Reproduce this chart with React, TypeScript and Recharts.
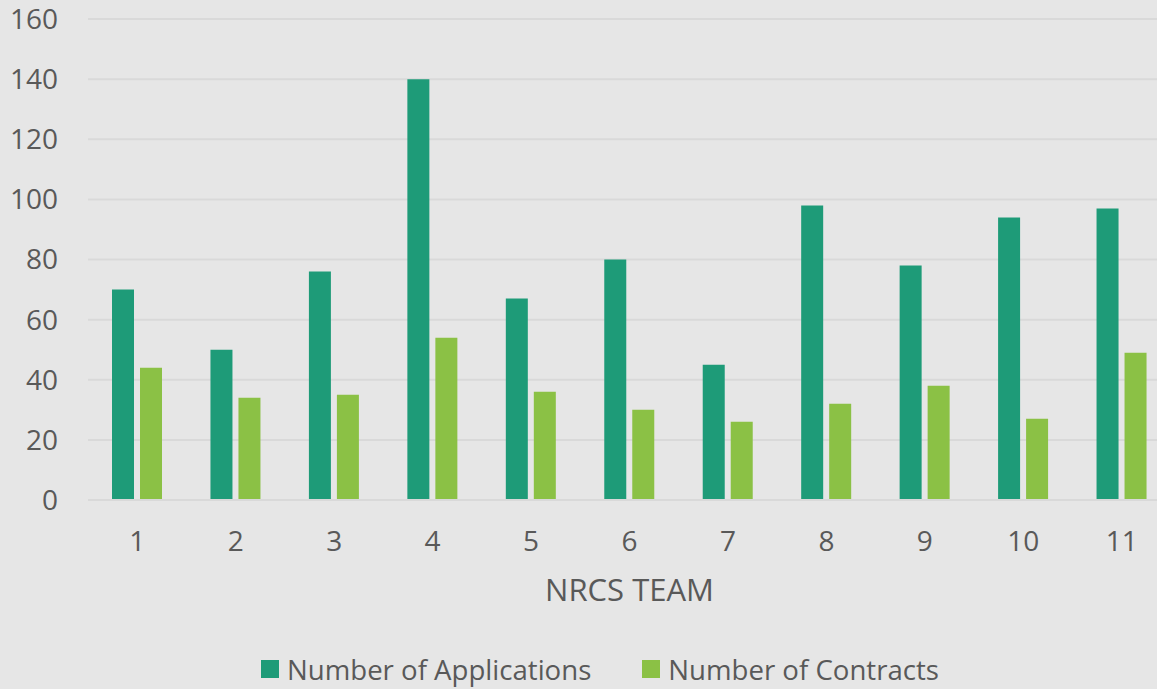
import { BarChart, Bar, XAxis, YAxis, CartesianGrid, Legend } from 'recharts'

const teams = ['1', '2', '3', '4', '5', '6', '7', '8', '9', '10', '11']
const applications = [70, 50, 76, 140, 67, 80, 45, 98, 78, 94, 97]
const contracts = [44, 34, 35, 54, 36, 30, 26, 32, 38, 27, 49]
const yTicks = [0, 20, 40, 60, 80, 100, 120, 140, 160]

const data = teams.map((team, i) => ({
  team,
  applications: applications[i],
  contracts: contracts[i],
}))

const FONT = "'Open Sans', sans-serif"
const TEXT = '#595959'
const DARK = '#1e9b78'
const LIGHT = '#8bc145'

function ChartLegend() {
  const items = [
    { label: 'Number of Applications', color: DARK },
    { label: 'Number of Contracts', color: LIGHT },
  ]
  return (
    <div style={{ display: 'flex', paddingLeft: 261, fontFamily: FONT, fontSize: 27.6, color: TEXT }}>
      {items.map((it) => (
        <div key={it.label} style={{ display: 'flex', alignItems: 'center', marginRight: 51 }}>
          <span style={{ width: 18, height: 18, background: it.color, marginRight: 8, display: 'inline-block' }} />
          <span>{it.label}</span>
        </div>
      ))}
    </div>
  )
}

export default function App() {
  return (
    <div
      style={{
        position: 'absolute',
        left: 0,
        top: 0,
        width: 1157,
        height: 689,
        overflow: 'hidden',
        background: '#e6e6e6',
      }}
    >
      <BarChart
        width={1171}
        height={689}
        data={data}
        margin={{ top: 19, right: 0, bottom: 0, left: 0 }}
        barSize={22}
        barGap={6}
      >
        <CartesianGrid vertical={false} stroke="#d9d9d9" strokeWidth={2} />
        <XAxis
          dataKey="team"
          height={189}
          tickLine={false}
          axisLine={{ stroke: '#d9d9d9', strokeWidth: 2 }}
          tickMargin={25}
          tick={{ fill: TEXT, fontSize: 28, fontFamily: FONT }}
          label={{
            value: 'NRCS TEAM',
            position: 'insideTop',
            offset: 79,
            fill: TEXT,
            fontSize: 31,
            fontFamily: FONT,
          }}
        />
        <YAxis
          width={88}
          domain={[0, 160]}
          ticks={yTicks}
          axisLine={false}
          tickLine={false}
          tickMargin={24}
          tick={{ fill: TEXT, fontSize: 28, fontFamily: FONT }}
        />
        <Legend
          layout="horizontal"
          verticalAlign="middle"
          align="center"
          wrapperStyle={{ top: 650, left: 0, width: 1157 }}
          content={() => <ChartLegend />}
        />
        <Bar dataKey="applications" name="Number of Applications" fill={DARK} isAnimationActive={false} />
        <Bar dataKey="contracts" name="Number of Contracts" fill={LIGHT} isAnimationActive={false} />
      </BarChart>
    </div>
  )
}
